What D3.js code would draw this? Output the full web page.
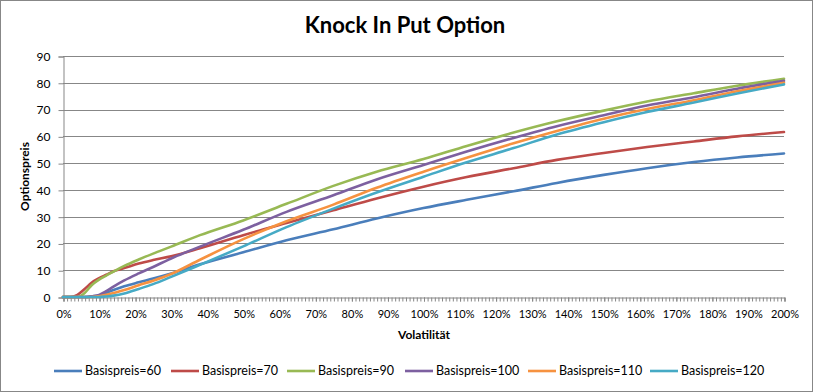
<!DOCTYPE html>
<html>
<head>
<meta charset="utf-8">
<script src="https://cdn.jsdelivr.net/npm/d3@7"></script>
<style>
  html, body { margin: 0; padding: 0; background: #fff; }
  svg { display: block; }
  text { font-family: Lato, "Open Sans", "Liberation Sans", sans-serif; fill: #000; }
</style>
</head>
<body>
<svg id="chart" width="813" height="392"></svg>
<script>
// ---- data ----
const volatility = [0,2,4,6,8,10,12,14,17,21,25,30,38,50,62,75,87,100,112,125,137,150,162,175,187,200];
const seriesNames = ["Basispreis=60","Basispreis=70","Basispreis=90","Basispreis=100","Basispreis=110","Basispreis=120"];
const basis60  = [0,0,0,0,0.2,0.6,1.5,2.6,4.0,5.5,6.9,8.8,12.2,16.7,21.2,25.3,29.3,33.2,36.3,39.5,42.6,45.6,48.1,50.4,52.1,53.6];
const basis70  = [0,0,0.8,3.0,5.4,7.0,8.3,9.6,10.8,12.5,13.8,15.2,18.2,23.1,27.6,32.4,36.8,41.2,44.8,48.1,51.2,53.8,56.0,58.1,60.0,61.6];
const basis90  = [0,0,0,1.5,4.5,6.5,8.0,9.5,11.6,14.0,16.2,18.8,23.1,28.6,34.8,41.5,46.8,51.5,56.4,61.4,65.6,69.6,73.0,76.1,78.9,81.5];
const basis100 = [0,0,0,0,0.3,0.8,2.2,3.9,6.2,8.8,11.2,14.4,18.8,25.1,31.8,38.0,43.9,49.3,54.3,59.4,63.8,67.9,71.5,74.6,77.8,80.7];
const basis110 = [0,0,0,0,0,0.3,0.8,1.5,2.6,4.4,6.1,8.6,13.9,21.6,28.3,34.5,40.8,46.8,52.0,57.4,62.0,66.6,70.2,73.5,76.8,80.0];
const basis120 = [0,0,0,0,0,0,0.2,0.5,1.3,3.0,4.8,7.5,12.0,18.9,26.1,33.0,39.0,44.9,50.3,55.6,60.7,65.3,69.1,72.6,76.0,79.4];
const seriesValues = [basis60, basis70, basis90, basis100, basis110, basis120];
const seriesColors = ["#4A7EBB","#BE4B48","#98B954","#7D60A0","#F69240","#46AAC5"];
const yTicks = [0,10,20,30,40,50,60,70,80,90];
const xLabelTicks = d3.range(0, 201, 10);
const xMinorTicks = d3.range(0, 201, 1);

const title = "Knock In Put Option";
const xTitle = "Volatilität";
const yTitle = "Optionspreis";

// ---- layout ----
const svg = d3.select("#chart");
const W = 813, H = 392;
const plot = { left: 63, right: 784, top: 56, bottom: 297 };
const grid = "#878787";

svg.append("rect").attr("x", 0.5).attr("y", 0.5).attr("width", W - 1).attr("height", H - 1)
  .attr("fill", "#fff").attr("stroke", grid).attr("stroke-width", 1);

const x = d3.scaleLinear().domain([0, 200]).range([plot.left, plot.right]);
const y = d3.scaleLinear().domain([0, 90]).range([plot.bottom, plot.top]);

// gridlines
svg.append("g").selectAll("line").data(yTicks.filter(d => d > 0)).join("line")
  .attr("x1", plot.left).attr("x2", plot.right)
  .attr("y1", d => Math.round(y(d)) + 0.5).attr("y2", d => Math.round(y(d)) + 0.5)
  .attr("stroke", grid).attr("stroke-width", 1);

// y axis
const yAxis = d3.axisLeft(y).tickValues(yTicks).tickSize(5).tickPadding(8).tickFormat(d3.format("d"));
const gy = svg.append("g").attr("transform", `translate(${plot.left + 0.5},0.5)`).call(yAxis);
gy.select(".domain").attr("stroke", grid);
gy.selectAll(".tick line").attr("stroke", grid);
gy.selectAll(".tick text").attr("font-size", 12).attr("fill", "#000")
  .style("font-family", "Lato, 'Open Sans', sans-serif");

// x axis minor ticks
const xMinor = d3.axisBottom(x).tickValues(xMinorTicks).tickSize(4).tickFormat("");
const gxm = svg.append("g").attr("transform", `translate(0.5,${plot.bottom + 0.5})`).call(xMinor);
gxm.select(".domain").attr("stroke", grid);
gxm.selectAll(".tick line").attr("stroke", grid);

// x axis labels
const xAxis = d3.axisBottom(x).tickValues(xLabelTicks).tickSize(4).tickPadding(9).tickFormat(d => d + "%");
const gx = svg.append("g").attr("transform", `translate(0.5,${plot.bottom + 0.5})`).call(xAxis);
gx.select(".domain").remove();
gx.selectAll(".tick line").attr("stroke", grid);
gx.selectAll(".tick text").attr("font-size", 11).attr("fill", "#000")
  .style("font-family", "Lato, 'Open Sans', sans-serif");

// lines
const line = d3.line().x((d, i) => x(volatility[i])).y(d => y(d)).curve(d3.curveMonotoneX);
svg.append("g").selectAll("path").data(seriesValues).join("path")
  .attr("d", d => line(d))
  .attr("fill", "none")
  .attr("stroke", (d, i) => seriesColors[i])
  .attr("stroke-width", 2.6)
  .attr("stroke-linejoin", "round")
  .attr("stroke-linecap", "round");

// title
svg.append("text").attr("x", 405).attr("y", 33).attr("text-anchor", "middle")
  .attr("font-size", 22).attr("font-weight", "bold").text(title);

// axis titles
svg.append("text").attr("x", 424).attr("y", 339).attr("text-anchor", "middle")
  .attr("font-size", 12).attr("font-weight", "bold").text(xTitle);
svg.append("text").attr("transform", `translate(29,${(plot.top + plot.bottom) / 2}) rotate(-90)`)
  .attr("text-anchor", "middle").attr("font-size", 12).attr("font-weight", "bold").text(yTitle);

// legend
const legendX = [54, 171, 287, 405, 528, 650];
const legendY = 371;
const lg = svg.append("g").selectAll("g").data(seriesNames).join("g")
  .attr("transform", (d, i) => `translate(${legendX[i]},${legendY})`);
lg.append("line").attr("x1", 0).attr("x2", 28).attr("y1", 0).attr("y2", 0)
  .attr("stroke", (d, i) => seriesColors[i]).attr("stroke-width", 2.6);
lg.append("text").attr("x", 31).attr("y", 0).attr("dy", "0.35em")
  .attr("font-size", 12.5).text(d => d);
</script>
</body>
</html>
